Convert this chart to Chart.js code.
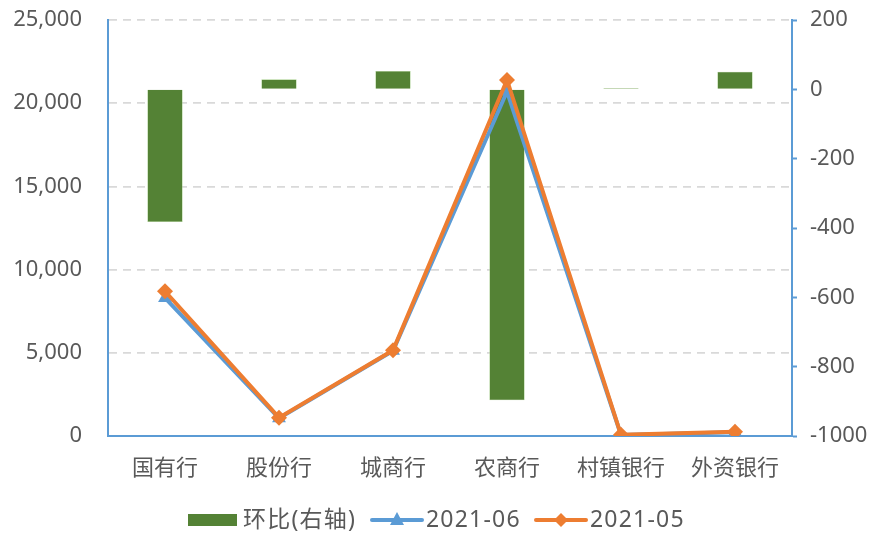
<!DOCTYPE html>
<html lang="zh">
<head>
<meta charset="UTF-8">
<style>
  html, body { margin: 0; padding: 0; background: #fff; }
  #wrap { width: 878px; height: 533px; position: relative; }
</style>
</head>
<body>
<div id="wrap"><canvas id="myChart"></canvas></div>
<script src="https://cdn.jsdelivr.net/npm/chart.js"></script>
<script>
const categories = ['国有行', '股份行', '城商行', '农商行', '村镇银行', '外资银行'];
const momChange = [-383, 29, 53, -897, 4, 51];          // 环比(右轴)
const jun2021 = [8300, 1070, 5120, 20700, 60, 230];     // 2021-06
const may2021 = [8700, 1100, 5150, 21400, 70, 250];     // 2021-05
const leftTicks = [0, 5000, 10000, 15000, 20000, 25000];
const rightTicks = [-1000, -800, -600, -400, -200, 0, 200];

const FONT = '"Noto Sans", "Noto Sans CJK SC", sans-serif';
const GREEN = '#548235', BLUE = '#5B9BD5', ORANGE = '#ED7D31', AXIS = '#5B9BD5', TXT = '#595959';

// legend drawn by hand so the line entries can show their markers
const legendPlugin = {
  id: 'excelLegend',
  afterDraw(chart) {
    const c = chart.ctx;
    const y = 520;
    c.save();
    c.font = '23px ' + FONT;
    c.letterSpacing = '1.2px';
    c.textBaseline = 'middle';
    c.fillStyle = GREEN;
    c.fillRect(188, y - 6, 49, 12);
    c.fillStyle = TXT;
    c.fillText('环比(右轴)', 243, y);
    const items = [[372, BLUE, 'triangle', '2021-06'], [536, ORANGE, 'rectRot', '2021-05']];
    items.forEach(([x, col, shape, label]) => {
      c.strokeStyle = col;
      c.lineWidth = 4;
      c.lineCap = 'round';
      c.beginPath(); c.moveTo(x, y); c.lineTo(x + 50, y); c.stroke();
      c.fillStyle = col;
      c.beginPath();
      if (shape === 'triangle') {
        c.moveTo(x + 25, y - 8); c.lineTo(x + 32, y + 5); c.lineTo(x + 18, y + 5);
      } else {
        c.moveTo(x + 25, y - 7); c.lineTo(x + 32, y); c.lineTo(x + 25, y + 7); c.lineTo(x + 18, y);
      }
      c.closePath(); c.fill();
      c.fillStyle = TXT;
      c.fillText(label, x + 54, y);
    });
    c.restore();
  }
};

// fixed axis boxes so the plot area lands where the original has it
const fitY = w => s => { s.width = w; s.paddingTop = 0; s.paddingBottom = 0; };

new Chart(document.getElementById('myChart'), {
  data: {
    labels: categories,
    datasets: [
      {
        type: 'bar', label: '环比(右轴)', data: momChange, yAxisID: 'yR',
        backgroundColor: GREEN, borderColor: '#A9D08E', borderWidth: 0.6,
        categoryPercentage: 1, barPercentage: 0.31, order: 3
      },
      {
        type: 'line', label: '2021-06', data: jun2021, yAxisID: 'yL',
        borderColor: BLUE, backgroundColor: BLUE, borderWidth: 4,
        pointStyle: 'triangle', pointRadius: 8, pointBorderWidth: 0,
        tension: 0, order: 2
      },
      {
        type: 'line', label: '2021-05', data: may2021, yAxisID: 'yL',
        borderColor: ORANGE, backgroundColor: ORANGE, borderWidth: 4,
        pointStyle: 'rectRot', pointRadius: 8, pointBorderWidth: 0,
        tension: 0, order: 1
      }
    ]
  },
  options: {
    responsive: true,
    maintainAspectRatio: false,
    animation: false,
    layout: { padding: { top: 20, bottom: 0, left: 0, right: 0 } },
    plugins: { legend: { display: false }, tooltip: { enabled: false } },
    scales: {
      x: {
        grid: { display: false, drawTicks: false },
        border: { color: AXIS, width: 2 },
        ticks: { color: TXT, font: { family: FONT, size: 22 }, padding: 20 },
        afterFit: s => { s.height = 97; s.paddingLeft = 0; s.paddingRight = 0; }
      },
      yL: {
        position: 'left', min: 0, max: 25000,
        afterBuildTicks: s => { s.ticks = leftTicks.map(v => ({ value: v })); },
        grid: { color: '#D9D9D9', lineWidth: 1.8, drawTicks: false },
        border: { color: AXIS, width: 2, dash: [8, 6] },
        ticks: {
          color: TXT, font: { family: FONT, size: 22 }, padding: 26,
          callback: v => v.toLocaleString('en-US')
        },
        afterFit: fitY(108)
      },
      yR: {
        position: 'right', min: -1000, max: 200,
        afterBuildTicks: s => { s.ticks = rightTicks.map(v => ({ value: v })); },
        grid: { drawOnChartArea: false, drawTicks: true, tickLength: 5, color: AXIS, tickWidth: 2 },
        border: { color: AXIS, width: 2 },
        ticks: { color: TXT, font: { family: FONT, size: 22 }, padding: 13, callback: v => String(v) },
        afterFit: fitY(86)
      }
    }
  },
  plugins: [legendPlugin]
});
</script>
</body>
</html>
